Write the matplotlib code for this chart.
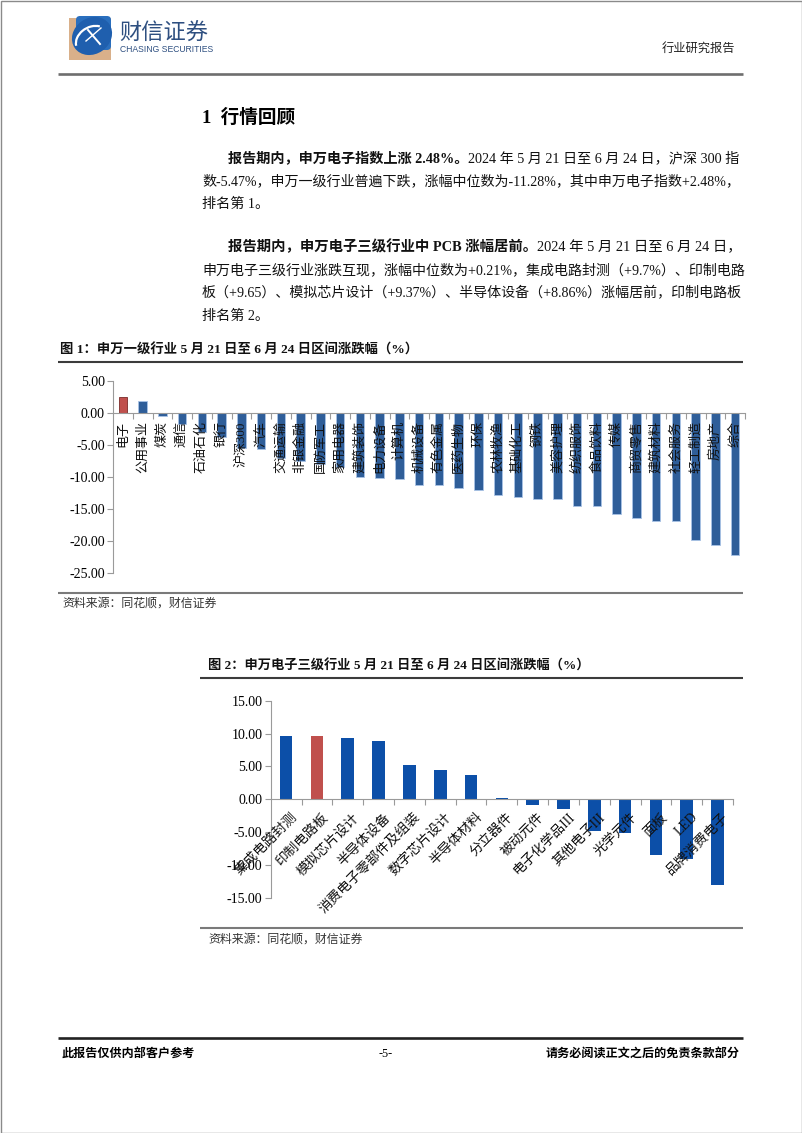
import matplotlib
matplotlib.use("Agg")
import matplotlib.pyplot as plt
from matplotlib.patches import Rectangle, FancyBboxPatch, Ellipse, Arc

plt.rcParams['font.family'] = ['Liberation Serif', 'Noto Sans CJK SC', 'DejaVu Sans']

# chart 1: 申万一级行业
ind_names = ['电子', '公用事业', '煤炭', '通信', '石油石化', '银行', '沪深300', '汽车',
             '交通运输', '非银金融', '国防军工', '家用电器', '建筑装饰', '电力设备', '计算机',
             '机械设备', '有色金属', '医药生物', '环保', '农林牧渔', '基础化工', '钢铁',
             '美容护理', '纺织服饰', '食品饮料', '传媒', '商贸零售', '建筑材料', '社会服务',
             '轻工制造', '房地产', '综合']
ind_values = [2.48, 1.87, -0.51, -1.66, -2.9, -3.7, -5.47, -5.7,
              -7.0, -7.5, -7.9, -8.5, -10.06, -10.08, -10.28,
              -11.3, -11.28, -11.78, -12.1, -12.8, -13.1, -13.4,
              -13.45, -14.5, -14.6, -15.8, -16.45, -16.8, -16.9,
              -19.8, -20.7, -22.2]
hl1 = '电子'

# chart 2: 申万电子三级行业
sub_names = ['集成电路封测', '印制电路板', '模拟芯片设计', '半导体设备', '消费电子零部件及组装',
             '数字芯片设计', '半导体材料', '分立器件', '被动元件', '电子化学品III', '其他电子III',
             '光学元件', '面板', 'LED', '品牌消费电子']
sub_values = [9.70, 9.65, 9.37, 8.86, 5.27, 4.41, 3.70, 0.21, -0.85, -1.40, -4.85,
              -5.10, -8.50, -9.00, -13.00]
hl2 = '印制电路板'

W, H = 802, 1133
fig = plt.figure(figsize=(W / 100, H / 100), dpi=100)
page = fig.add_axes([0, 0, 1, 1])
page.set_xlim(0, W)
page.set_ylim(H, 0)
page.axis('off')
r = fig.canvas.get_renderer()

page.add_patch(Rectangle((0.5, 0.5), W - 1, H - 1, fill=False, ec='#8a8a8a', lw=1))

# header / logo
page.add_patch(Rectangle((69, 18), 42, 42, fc='#D9B08A', ec='none'))
page.add_patch(FancyBboxPatch((76, 16), 35, 34, boxstyle='round,pad=0,rounding_size=4',
                              fc='#2A6FBE', ec='none'))
page.add_patch(Ellipse((92, 36), 42, 36, angle=-35, fc='#1F5FAE', ec='none'))
page.add_patch(Arc((92, 40), 34, 26, angle=-30, theta1=190, theta2=330, color='white', lw=1.6))
page.plot([88, 100], [30, 44], color='white', lw=1.4)
page.plot([86, 101], [41, 28], color='white', lw=1.0)
page.text(119, 33, '财信证券', fontsize=16, color='#2E4F80', va='center', ha='left',
          family=['Noto Sans CJK SC'])
page.text(120, 50, 'CHASING SECURITIES', fontsize=6.2, color='#2E4F80', va='center', ha='left',
          family=['Liberation Sans'])
page.text(735, 49, '行业研究报告', fontsize=8.8, color='#222222', va='center', ha='right')
page.plot([58, 743], [74, 74], color='#6e6e6e', lw=1.9, solid_capstyle='butt')

page.text(202, 118, '1  行情回顾', fontsize=13.4, fontweight='bold', va='center', ha='left')


def fit_line(x, y, parts, target=None, size=10.2):
    """parts: list of (text, bold). If target given, scale size so line ends at target."""
    def draw(sz):
        arts = []
        cx = x
        for s, b in parts:
            t = page.text(cx, y, s, fontsize=sz, fontweight='bold' if b else 'normal',
                          va='center', ha='left', color='#111111')
            cx = t.get_window_extent(renderer=r).x1
            arts.append(t)
        return arts, cx
    arts, end = draw(size)
    if target is None:
        return
    sz = size
    for _ in range(3):
        for a in arts:
            a.remove()
        sz = sz * (target - x) / (end - x)
        arts, end = draw(sz)


fit_line(228, 158, [('报告期内，申万电子指数上涨 2.48%。', True),
                    ('2024 年 5 月 21 日至 6 月 24 日，沪深 300 指', False)], target=743)
fit_line(202, 181, [('数-5.47%，申万一级行业普遍下跌，涨幅中位数为-11.28%，其中申万电子指数+2.48%，', False)],
         target=743)
fit_line(202, 204, [('排名第 1。', False)])
fit_line(228, 247, [('报告期内，申万电子三级行业中 PCB 涨幅居前。', True),
                    ('2024 年 5 月 21 日至 6 月 24 日，', False)], target=743)
fit_line(202, 270, [('申万电子三级行业涨跌互现，涨幅中位数为+0.21%，集成电路封测（+9.7%）、印制电路', False)],
         target=743)
fit_line(202, 293, [('板（+9.65）、模拟芯片设计（+9.37%）、半导体设备（+8.86%）涨幅居前，印制电路板', False)],
         target=743)
fit_line(202, 316, [('排名第 2。', False)])

# figure 1 caption and frame
page.text(60, 350, '图 1：申万一级行业 5 月 21 日至 6 月 24 日区间涨跌幅（%）', fontsize=9.6,
          fontweight='bold', va='center', ha='left', color='#111111')
page.plot([58, 743], [362, 362], color='#3c3c3c', lw=1.5, solid_capstyle='butt')
page.plot([58, 743], [593, 593], color='#7a7a7a', lw=1.5, solid_capstyle='butt')
page.text(62, 604, '资料来源：同花顺，财信证券', fontsize=8.6, style='italic', color='#333333',
          va='center', ha='left')

# figure 2 caption and frame
page.text(208, 666, '图 2：申万电子三级行业 5 月 21 日至 6 月 24 日区间涨跌幅（%）', fontsize=9.5,
          fontweight='bold', va='center', ha='left', color='#111111')
page.plot([200, 743], [678, 678], color='#3c3c3c', lw=1.5, solid_capstyle='butt')
page.plot([200, 743], [928, 928], color='#7a7a7a', lw=1.5, solid_capstyle='butt')
page.text(208, 940, '资料来源：同花顺，财信证券', fontsize=8.6, style='italic', color='#333333',
          va='center', ha='left')

# footer
page.plot([58, 743], [1038, 1038], color='#222222', lw=1.9, solid_capstyle='butt')
page.text(62, 1054, '此报告仅供内部客户参考', fontsize=8.7, fontweight='bold', va='center', ha='left')
page.text(386, 1054, '-5-', fontsize=8.7, va='center', ha='center')
page.text(740, 1054, '请务必阅读正文之后的免责条款部分', fontsize=8.7, fontweight='bold',
          va='center', ha='right')

axis_grey = '#9a9a9a'


def style_axes(ax, n):
    ax.set_facecolor('none')
    for s in ('top', 'right'):
        ax.spines[s].set_visible(False)
    ax.spines['left'].set_color(axis_grey)
    ax.spines['bottom'].set_color(axis_grey)
    ax.spines['bottom'].set_position(('data', 0))
    ax.set_xlim(-0.5, n - 0.5)
    ax.set_xticks([i + 0.5 for i in range(n)])
    ax.set_xticklabels([])
    ax.tick_params(axis='x', direction='out', length=4, color=axis_grey)
    ax.tick_params(axis='y', direction='out', length=4, color=axis_grey, labelsize=10, pad=2)


# chart 1
ax1 = fig.add_axes([113 / W, 1 - 573 / H, 632 / W, 192 / H])
n1 = len(ind_names)
col1 = ['#C0504D' if n == hl1 else '#2F5E99' for n in ind_names]
edge1 = ['#7a2a28' if n == hl1 else '#A9C3E6' for n in ind_names]
ax1.bar(range(n1), ind_values, width=0.43, color=col1, edgecolor=edge1, lw=0.6, zorder=2)
ax1.set_ylim(-25, 5)
ax1.set_yticks(range(-25, 6, 5))
ax1.set_yticklabels([f'{v:.2f}' for v in range(-25, 6, 5)])
style_axes(ax1, n1)
for i, name in enumerate(ind_names):
    ax1.text(i, -1.3, name, rotation=90, ha='center', va='top', fontsize=9.4,
             color='#111111', zorder=3)

# chart 2
ax2 = fig.add_axes([270.7 / W, 1 - 898 / H, 462.3 / W, 197.3 / H])
n2 = len(sub_names)
col2 = ['#C0504D' if n == hl2 else '#0C4FA8' for n in sub_names]
ax2.bar(range(n2), sub_values, width=0.41, color=col2, zorder=2)
ax2.set_ylim(-15, 15)
ax2.set_yticks(range(-15, 16, 5))
ax2.set_yticklabels([f'{v:.2f}' for v in range(-15, 16, 5)])
style_axes(ax2, n2)
for i, name in enumerate(sub_names):
    ax2.text(i + 0.3, -2.4, name, rotation=45, ha='right', va='center',
             rotation_mode='anchor', fontsize=9.8, color='#111111', zorder=3)

fig.savefig('out.png', dpi=100)
